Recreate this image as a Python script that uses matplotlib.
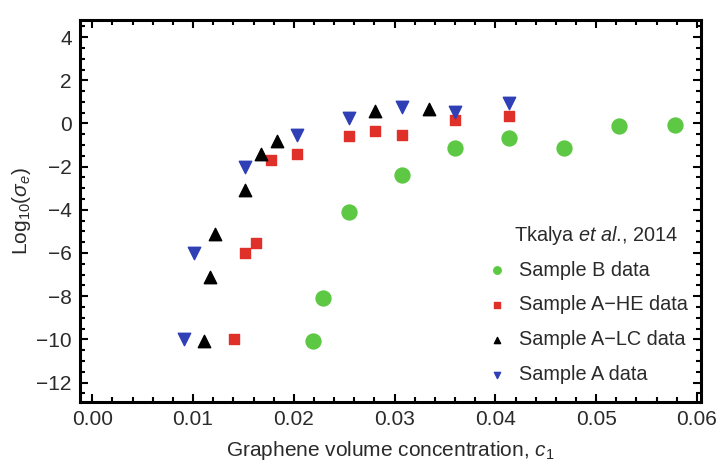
import numpy as np
import matplotlib.pyplot as plt
from matplotlib.ticker import MultipleLocator

plt.rcParams['font.family'] = ['Liberation Sans', 'DejaVu Sans']
plt.rcParams['mathtext.fontset'] = 'custom'
plt.rcParams['mathtext.rm'] = 'Liberation Sans'
plt.rcParams['mathtext.it'] = 'Liberation Sans:italic'

# Tkalya et al., 2014 data
sampleB_x = [0.0219, 0.0229, 0.0255, 0.0307, 0.0360, 0.0414, 0.0468, 0.0523, 0.0578]
sampleB_y = [-10.1, -8.1, -4.1, -2.4, -1.15, -0.65, -1.15, -0.12, -0.05]

sampleAHE_x = [0.0141, 0.0152, 0.0162, 0.0177, 0.0203, 0.0255, 0.0281, 0.0307, 0.0360, 0.0414]
sampleAHE_y = [-10.0, -6.0, -5.55, -1.7, -1.4, -0.6, -0.35, -0.55, 0.15, 0.35]

sampleALC_x = [0.0111, 0.0117, 0.0122, 0.0152, 0.0167, 0.0183, 0.0281, 0.0334]
sampleALC_y = [-10.1, -7.1, -5.1, -3.1, -1.4, -0.8, 0.6, 0.65]

sampleA_x = [0.0091, 0.0101, 0.0152, 0.0203, 0.0255, 0.0307, 0.0360, 0.0414]
sampleA_y = [-10.0, -6.0, -2.0, -0.55, 0.25, 0.75, 0.55, 0.95]

txt = '#2a2a2a'

fig = plt.figure(figsize=(7.16, 4.62), dpi=100)
ax = fig.add_axes([0.112, 0.13, 0.867, 0.827])

ax.scatter(sampleB_x, sampleB_y, s=115, marker='o', color='#5cc843', label='Sample B data', zorder=3)
ax.scatter(sampleAHE_x, sampleAHE_y, s=60, marker='s', color='#e0302a', label='Sample A\u2212HE data', zorder=3)
ax.scatter(sampleALC_x, sampleALC_y, s=80, marker='^', color='black', label='Sample A\u2212LC data', zorder=3)
ax.scatter(sampleA_x, sampleA_y, s=80, marker='v', color='#2f3fb5', label='Sample A data', zorder=3)

ax.set_xlim(-0.0012, 0.0604)
ax.set_ylim(-12.9, 4.8)
ax.xaxis.set_major_locator(MultipleLocator(0.01))
ax.xaxis.set_minor_locator(MultipleLocator(0.002))
ax.yaxis.set_major_locator(MultipleLocator(2))
ax.yaxis.set_minor_locator(MultipleLocator(0.5))
ax.xaxis.set_major_formatter(plt.FormatStrFormatter('%.2f'))
ax.tick_params(which='both', direction='in', top=True, right=True, width=1.5, color='black',
               labelcolor=txt)
ax.tick_params(which='major', length=6, labelsize=15, pad=6)
ax.tick_params(which='minor', length=3.5)
for sp in ax.spines.values():
    sp.set_linewidth(2.2)

ax.set_xlabel('Graphene volume concentration, $c_1$', fontsize=15, color=txt, labelpad=7)
ax.set_ylabel('Log$_{10}$($\\sigma_e$)', fontsize=15, color=txt, labelpad=2)

ax.text(0.699, 0.435, 'Tkalya $et\\ al.\\!$, 2014', transform=ax.transAxes, fontsize=14.3,
        color=txt, va='center', ha='left')
leg = ax.legend(loc='upper left', bbox_to_anchor=(0.655, 0.37), frameon=False, fontsize=14.3,
                markerscale=0.5, handlelength=1.0, handletextpad=0.6, labelspacing=0.8,
                borderpad=0, borderaxespad=0)
for t in leg.get_texts():
    t.set_color(txt)

fig.savefig('out.png', dpi=100)
